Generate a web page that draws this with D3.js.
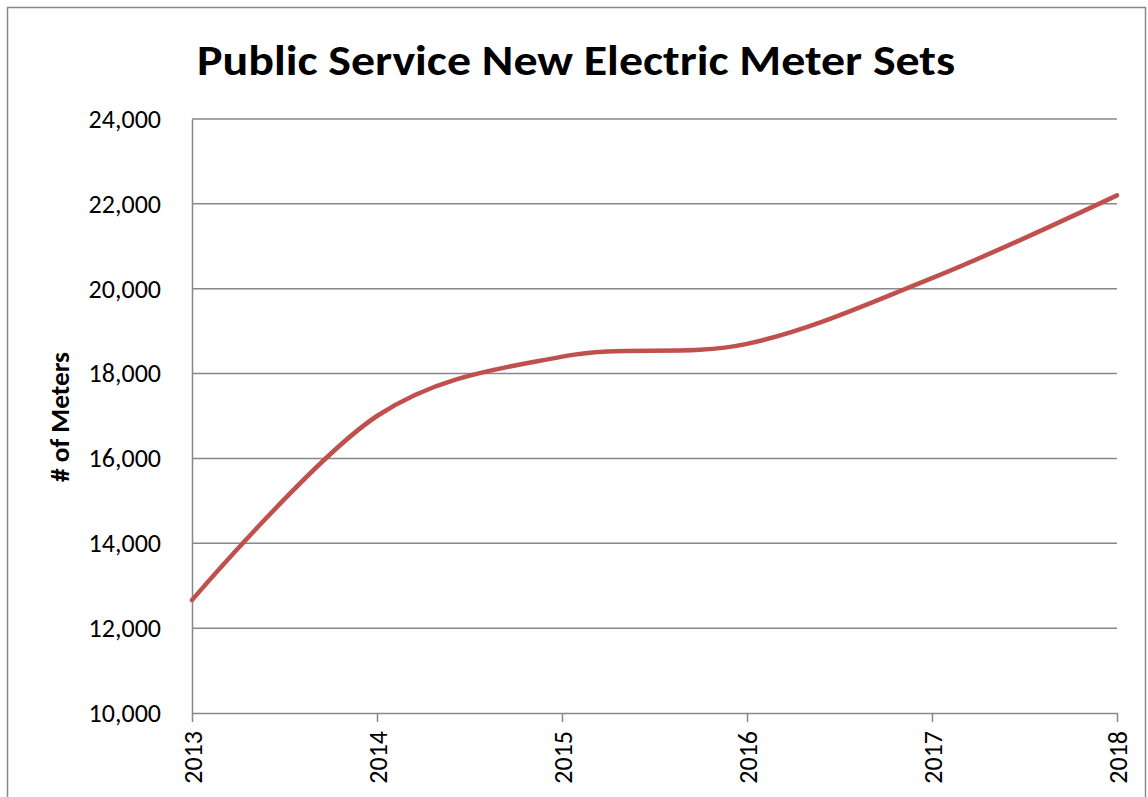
<!DOCTYPE html>
<html>
<head>
<meta charset="utf-8">
<script src="https://cdn.jsdelivr.net/npm/d3@7"></script>
<style>
  body { margin: 0; background: #fff; }
  svg { display: block; font-family: Carlito, Calibri, "Open Sans", sans-serif; }
</style>
</head>
<body>
<div class="container"></div>
<script>
const years = [2013, 2014, 2015, 2016, 2017, 2018];
const meters = [12660, 17000, 18400, 18700, 20250, 22200];
const yTicks = [10000, 12000, 14000, 16000, 18000, 20000, 22000, 24000];
const titleText = "Public Service New Electric Meter Sets";
const yLabel = "# of Meters";

const W = 1148, H = 797;
const margin = { top: 119, right: 31, bottom: 84, left: 192 };
const width = W - margin.left - margin.right;
const height = H - margin.top - margin.bottom;

const svg = d3.select(".container").append("svg")
    .attr("width", W)
    .attr("height", H);

// chart border
svg.append("rect")
    .attr("x", 7.5).attr("y", 7.5)
    .attr("width", 1138).attr("height", 820)
    .attr("fill", "none")
    .attr("stroke", "#888")
    .attr("stroke-width", 1.5);

// title
svg.append("text")
    .attr("x", 576).attr("y", 75)
    .attr("text-anchor", "middle")
    .attr("font-size", 42)
    .attr("font-weight", "bold")
    .attr("textLength", 758)
    .attr("lengthAdjust", "spacingAndGlyphs")
    .text(titleText);

const g = svg.append("g").attr("transform", `translate(${margin.left},${margin.top})`);

const x = d3.scaleLinear().domain([2013, 2018]).range([0, width]);
const y = d3.scaleLinear().domain([10000, 24000]).range([height, 0]);

// gridlines
g.append("g")
    .selectAll("line")
    .data(yTicks.slice(1))
    .join("line")
    .attr("x1", 0).attr("x2", width)
    .attr("y1", d => y(d)).attr("y2", d => y(d))
    .attr("stroke", "#888")
    .attr("stroke-width", 1.5);

// y axis
const yAxis = g.append("g")
    .call(d3.axisLeft(y).tickValues(yTicks).tickSize(0).tickPadding(31).tickFormat(d3.format(",")));
yAxis.select(".domain").attr("stroke", "#888").attr("stroke-width", 1.5);
yAxis.selectAll("text").attr("font-size", 26).attr("fill", "#000")
    .attr("font-family", "Carlito, Calibri, 'Open Sans', sans-serif");

// x axis
const xAxis = g.append("g")
    .attr("transform", `translate(0,${height})`)
    .call(d3.axisBottom(x).tickValues(years).tickSize(9).tickSizeOuter(0).tickFormat(d3.format("d")));
xAxis.select(".domain").attr("stroke", "#888").attr("stroke-width", 1.5);
xAxis.selectAll(".tick line").attr("stroke", "#888").attr("stroke-width", 1.5);
xAxis.selectAll("text")
    .attr("font-size", 26).attr("fill", "#000")
    .attr("font-family", "Carlito, Calibri, 'Open Sans', sans-serif")
    .attr("transform", "rotate(-90)")
    .attr("text-anchor", "end")
    .attr("x", -18).attr("y", 0).attr("dy", "0.35em");

// y label
svg.append("text")
    .attr("transform", "translate(69,417) rotate(-90)")
    .attr("text-anchor", "middle")
    .attr("font-size", 26)
    .attr("font-weight", "bold")
    .attr("textLength", 130)
    .attr("lengthAdjust", "spacingAndGlyphs")
    .text(yLabel);

// line
const line = d3.line()
    .x((d, i) => x(years[i]))
    .y(d => y(d))
    .curve(d3.curveCardinal.tension(0));

g.append("path")
    .datum(meters)
    .attr("d", line)
    .attr("fill", "none")
    .attr("stroke", "#C0504D")
    .attr("stroke-width", 4.5)
    .attr("stroke-linecap", "round");
</script>
</body>
</html>
